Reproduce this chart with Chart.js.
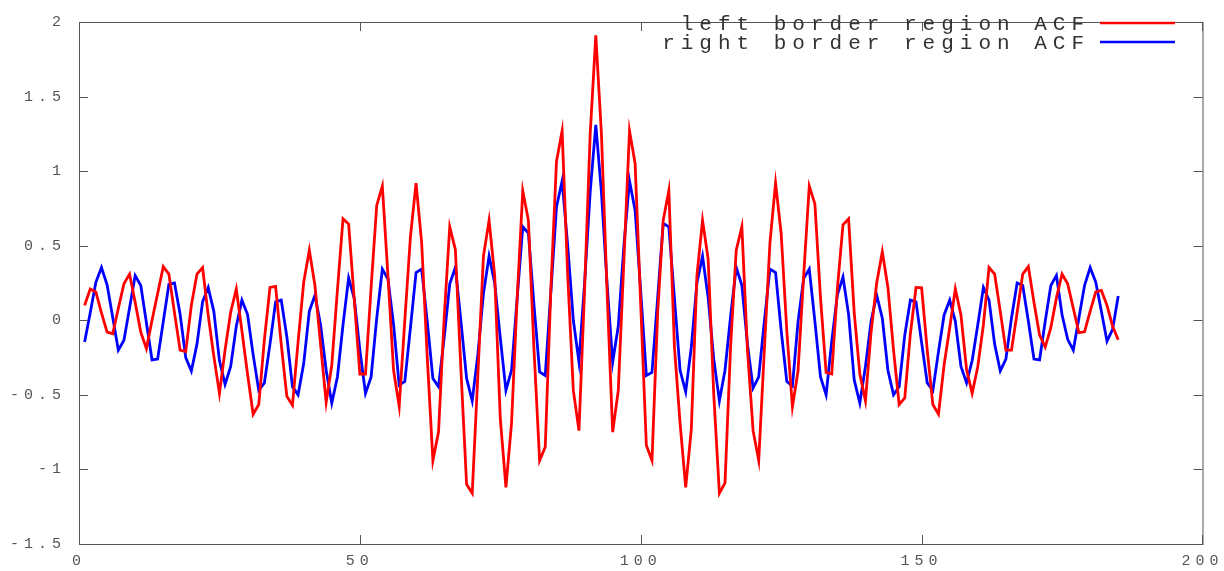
<!DOCTYPE html>
<html>
<head>
<meta charset="utf-8">
<script src="https://cdn.jsdelivr.net/npm/chart.js@4"></script>
<style>
html,body{margin:0;padding:0;background:#fff;overflow:hidden}
canvas{display:block}
</style>
</head>
<body>
<canvas id="acf" width="1224" height="571"></canvas>
<script>
// ACF values, lag 1..185
const leftACF = [
 0.10, 0.21, 0.19, 0.05, -0.08, -0.09, 0.08, 0.245, 0.31, 0.12,
 -0.08, -0.19, 0.0, 0.18, 0.36, 0.31, 0.05, -0.2, -0.21, 0.10,
 0.31, 0.354, 0.035, -0.24, -0.49, -0.2, 0.054, 0.21, -0.07, -0.36,
 -0.63, -0.565, -0.13, 0.22, 0.227, -0.16, -0.51, -0.57, -0.145, 0.255,
 0.47, 0.233, -0.16, -0.55, -0.3, 0.2, 0.68, 0.645, 0.14, -0.36,
 -0.36, 0.22, 0.77, 0.9, 0.3, -0.335, -0.577, 0.0, 0.56, 0.92,
 0.52, -0.25, -0.94, -0.75, 0.01, 0.627, 0.474, -0.34, -1.1, -1.16,
 -0.37, 0.43, 0.67, 0.3, -0.66, -1.12, -0.69, 0.15, 0.868, 0.67,
 -0.2, -0.94, -0.85, 0.21, 1.065, 1.27, 0.3, -0.47, -0.74, 0.2,
 1.25, 1.91, 1.25, 0.2, -0.75, -0.47, 0.4, 1.27, 1.05, 0.1,
 -0.84, -0.94, 0.04, 0.67, 0.87, -0.18, -0.69, -1.12, -0.73, 0.3,
 0.67, 0.41, -0.5, -1.16, -1.09, -0.17, 0.47, 0.627, -0.2, -0.74,
 -0.94, -0.2, 0.52, 0.92, 0.58, -0.07, -0.58, -0.34, 0.3, 0.9,
 0.78, 0.15, -0.35, -0.36, 0.21, 0.64, 0.68, 0.05, -0.36, -0.54,
 -0.08, 0.25, 0.46, 0.22, -0.2, -0.565, -0.52, -0.09, 0.22, 0.218,
 -0.2, -0.565, -0.63, -0.3, -0.05, 0.21, 0.036, -0.33, -0.49, -0.31,
 -0.03, 0.354, 0.31, 0.06, -0.2, -0.2, 0.05, 0.31, 0.36, 0.12,
 -0.1, -0.18, -0.05, 0.15, 0.31, 0.245, 0.08, -0.083, -0.077, 0.06,
 0.19, 0.2, 0.1, -0.04, -0.13
];
const rightACF = [
 -0.145, 0.05, 0.255, 0.354, 0.238, 0.02, -0.2, -0.134, 0.082, 0.30,
 0.233, -0.016, -0.265, -0.26, -0.01, 0.24, 0.25, 0.04, -0.25, -0.34,
 -0.16, 0.124, 0.22, 0.06, -0.27, -0.43, -0.31, -0.04, 0.135, 0.04,
 -0.23, -0.47, -0.42, -0.16, 0.124, 0.135, -0.11, -0.445, -0.50, -0.29,
 0.06, 0.168, -0.03, -0.335, -0.555, -0.38, -0.03, 0.284, 0.146, -0.2,
 -0.49, -0.38, 0.015, 0.343, 0.277, -0.03, -0.434, -0.41, -0.05, 0.32,
 0.343, -0.01, -0.39, -0.445, -0.12, 0.245, 0.354, -0.01, -0.39, -0.54,
 -0.23, 0.18, 0.43, 0.25, -0.12, -0.47, -0.335, 0.146, 0.627, 0.584,
 0.10, -0.346, -0.37, 0.19, 0.76, 0.934, 0.5, 0.0, -0.28, 0.25,
 0.86, 1.31, 0.86, 0.25, -0.28, -0.04, 0.5, 0.934, 0.736, 0.19,
 -0.37, -0.35, 0.146, 0.65, 0.627, 0.146, -0.335, -0.48, -0.18, 0.25,
 0.43, 0.15, -0.26, -0.54, -0.335, 0.03, 0.354, 0.234, -0.16, -0.455,
 -0.38, -0.007, 0.343, 0.32, -0.07, -0.41, -0.44, -0.01, 0.28, 0.343,
 -0.007, -0.38, -0.5, -0.14, 0.17, 0.29, 0.04, -0.4, -0.555, -0.31,
 -0.007, 0.168, 0.015, -0.335, -0.5, -0.445, -0.1, 0.135, 0.124, -0.15,
 -0.42, -0.47, -0.21, 0.036, 0.135, -0.007, -0.31, -0.42, -0.27, -0.03,
 0.22, 0.135, -0.16, -0.34, -0.26, 0.015, 0.25, 0.233, -0.007, -0.26,
 -0.265, -0.007, 0.233, 0.3, 0.037, -0.128, -0.2, 0.015, 0.233, 0.354,
 0.255, 0.06, -0.14, -0.06, 0.163
];
const firstLag = 1;
const seriesNames = ["left border region ACF", "right border region ACF"];
const xTicks = [0, 50, 100, 150, 200];
const yTicks = [-1.5, -1, -0.5, 0, 0.5, 1, 1.5, 2];

const toPoints = vals => vals.map((v, i) => ({x: firstLag + i, y: v}));

// gnuplot-style border, inward ticks and key
const gnuFrame = {
 id: 'gnuFrame',
 beforeDraw(chart){ chart.ctx.letterSpacing = '5px'; },
 afterDraw(chart){
  const {ctx, chartArea: a, scales: {x, y}} = chart;
  ctx.save();
  ctx.letterSpacing = '0px';
  ctx.strokeStyle = '#555';
  ctx.lineWidth = 1;
  ctx.strokeRect(a.left + 0.5, a.top + 0.5, a.right - a.left, a.bottom - a.top);
  ctx.beginPath();
  yTicks.forEach(v => {
   const py = Math.round(y.getPixelForValue(v)) + 0.5;
   ctx.moveTo(a.left, py); ctx.lineTo(a.left + 9, py);
   ctx.moveTo(a.right, py); ctx.lineTo(a.right - 9, py);
  });
  xTicks.forEach(v => {
   const px = Math.round(x.getPixelForValue(v)) + 0.5;
   ctx.moveTo(px, a.bottom); ctx.lineTo(px, a.bottom - 9);
   ctx.moveTo(px, a.top); ctx.lineTo(px, a.top + 9);
  });
  ctx.stroke();

  ctx.font = '21px "Liberation Mono"';
  ctx.letterSpacing = '6px';
  ctx.textAlign = 'right';
  ctx.textBaseline = 'middle';
  ctx.fillStyle = '#333';
  chart.data.datasets.forEach((ds, i) => {
   const ly = 23 + i * 19;
   ctx.fillText(ds.label, 1090, ly + 1);
   ctx.strokeStyle = ds.borderColor;
   ctx.lineWidth = 2.5;
   ctx.beginPath();
   ctx.moveTo(1100, ly); ctx.lineTo(1175, ly);
   ctx.stroke();
  });
  ctx.restore();
 }
};

const tickFont = {family: 'Liberation Mono', size: 15};

new Chart(document.getElementById('acf'), {
 type: 'line',
 data: {
  datasets: [
   {label: seriesNames[0], data: toPoints(leftACF), borderColor: '#ff0000', borderWidth: 2.8},
   {label: seriesNames[1], data: toPoints(rightACF), borderColor: '#0000ff', borderWidth: 2.8}
  ]
 },
 options: {
  responsive: false,
  devicePixelRatio: 1,
  animation: false,
  layout: {autoPadding: false, padding: {left: 0, top: 11, right: 16, bottom: 0}},
  elements: {point: {radius: 0}, line: {tension: 0}},
  plugins: {legend: {display: false}, tooltip: {enabled: false}},
  scales: {
   x: {
    type: 'linear', min: 0, max: 200,
    afterFit: s => { s.height = 27; },
    afterBuildTicks: s => { s.ticks = xTicks.map(v => ({value: v})); },
    grid: {display: false, drawTicks: false},
    border: {display: false},
    ticks: {color: '#555', font: tickFont, padding: 8, maxRotation: 0, callback: v => String(v)}
   },
   y: {
    type: 'linear', min: -1.5, max: 2,
    afterFit: s => { s.width = 79; },
    afterBuildTicks: s => { s.ticks = yTicks.map(v => ({value: v})); },
    grid: {display: false, drawTicks: false},
    border: {display: false},
    ticks: {color: '#555', font: tickFont, padding: 13, callback: v => String(v)}
   }
  }
 },
 plugins: [gnuFrame]
});
</script>
</body>
</html>
